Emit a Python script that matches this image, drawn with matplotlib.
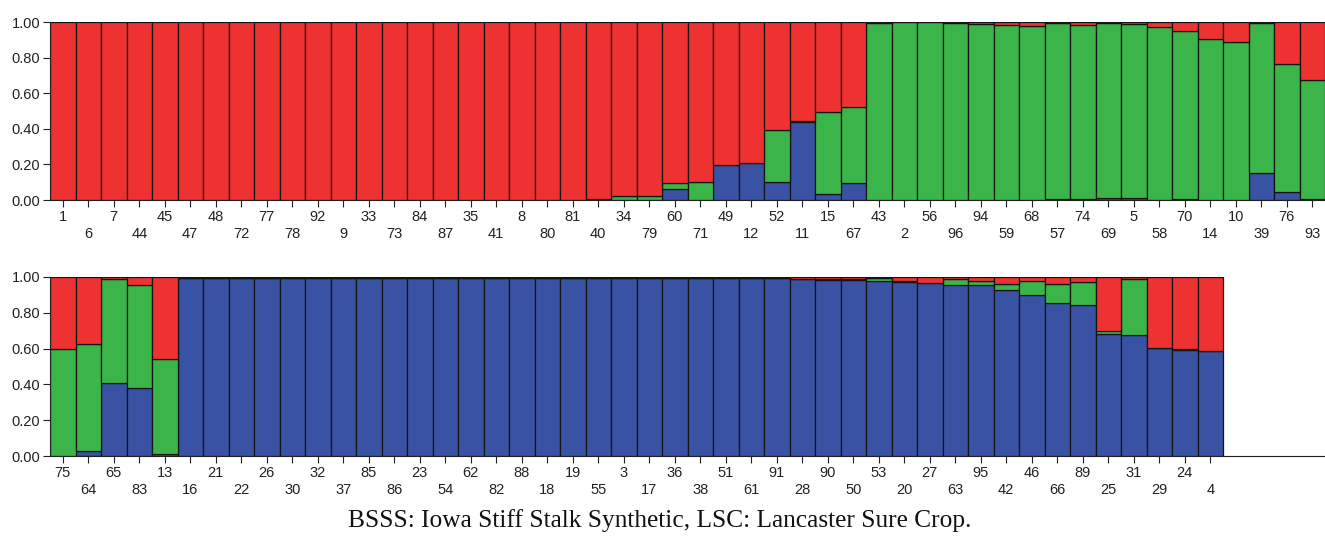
import matplotlib
matplotlib.use("Agg")
import matplotlib.pyplot as plt
import numpy as np

# ---------------- data ----------------
top_labels = [1, 6, 7, 44, 45, 47, 48, 72, 77, 78, 92, 9, 33, 73, 84, 87, 35, 41, 8, 80,
              81, 40, 34, 79, 60, 71, 49, 12, 52, 11, 15, 67, 43, 2, 56, 96, 94, 59, 68, 57,
              74, 69, 5, 58, 70, 14, 10, 39, 76, 93]
top_blue = [0, 0, 0, 0, 0, 0, 0, 0, 0, 0, 0, 0, 0, 0, 0, 0, 0, 0, 0, 0,
            0, 0.005, 0, 0, 0.062, 0, 0.196, 0.207, 0.103, 0.440, 0.034, 0.095, 0, 0, 0, 0, 0, 0, 0, 0.005,
            0.005, 0.011, 0.011, 0, 0.005, 0, 0, 0.151, 0.043, 0.005]
top_green = [0, 0, 0, 0, 0, 0, 0, 0, 0, 0, 0, 0, 0, 0, 0, 0, 0, 0, 0, 0,
             0, 0, 0.020, 0.020, 0.031, 0.099, 0, 0, 0.291, 0.005, 0.461, 0.428, 0.995, 0.998, 0.998, 0.997, 0.987, 0.985, 0.978, 0.988,
             0.980, 0.982, 0.976, 0.972, 0.945, 0.907, 0.888, 0.845, 0.721, 0.668]
top_red = [1, 1, 1, 1, 1, 1, 1, 1, 1, 1, 1, 1, 1, 1, 1, 1, 1, 1, 1, 1,
           1, 0.995, 0.980, 0.980, 0.907, 0.901, 0.804, 0.793, 0.606, 0.555, 0.505, 0.477, 0.005, 0.002, 0.002, 0.003, 0.013, 0.015, 0.022, 0.007,
           0.015, 0.007, 0.013, 0.028, 0.050, 0.093, 0.112, 0.004, 0.236, 0.327]

bot_labels = [75, 64, 65, 83, 13, 16, 21, 22, 26, 30, 32, 37, 85, 86, 23, 54, 62, 82, 88, 18,
              19, 55, 3, 17, 36, 38, 51, 61, 91, 28, 90, 50, 53, 20, 27, 63, 95, 42, 46, 66,
              89, 25, 31, 29, 24, 4]
bot_blue = [0.0, 0.026, 0.406, 0.378, 0.013, 0.995, 0.995, 0.995, 0.995, 0.995, 0.995, 0.995, 0.995, 0.995, 0.995, 0.995, 0.995, 0.995, 0.995, 0.995,
            0.995, 0.995, 0.995, 0.995, 0.995, 0.995, 0.995, 0.995, 0.995, 0.988, 0.985, 0.985, 0.979, 0.972, 0.966, 0.953, 0.953, 0.925, 0.897, 0.854,
            0.845, 0.682, 0.677, 0.602, 0.593, 0.587]
bot_green = [0.598, 0.600, 0.584, 0.577, 0.529, 0.002, 0.002, 0.002, 0.002, 0.002, 0.002, 0.002, 0.002, 0.002, 0.002, 0.002, 0.002, 0.002, 0.002, 0.002,
             0.002, 0.002, 0.002, 0.002, 0.002, 0.002, 0.002, 0.002, 0.002, 0.002, 0.003, 0.005, 0.013, 0.004, 0.002, 0.037, 0.027, 0.035, 0.083, 0.109,
             0.125, 0.015, 0.313, 0.003, 0.002, 0.002]
bot_red = [0.402, 0.374, 0.010, 0.045, 0.458, 0.003, 0.003, 0.003, 0.003, 0.003, 0.003, 0.003, 0.003, 0.003, 0.003, 0.003, 0.003, 0.003, 0.003, 0.003,
           0.003, 0.003, 0.003, 0.003, 0.003, 0.003, 0.003, 0.003, 0.003, 0.010, 0.012, 0.010, 0.008, 0.024, 0.032, 0.010, 0.020, 0.040, 0.020, 0.037,
           0.030, 0.303, 0.010, 0.395, 0.405, 0.411]

y_ticks = [0.0, 0.2, 0.4, 0.6, 0.8, 1.0]
y_ticklabels = ["0.00", "0.20", "0.40", "0.60", "0.80", "1.00"]
caption = "BSSS: Iowa Stiff Stalk Synthetic, LSC: Lancaster Sure Crop."

# ---------------- style ----------------
C_BLUE = "#3a52a3"
C_GREEN = "#3bb54a"
C_RED = "#ee3131"
EDGE = "#141414"
plt.rcParams["font.family"] = ["Liberation Sans Narrow", "Liberation Sans", "DejaVu Sans"]

fig = plt.figure(figsize=(13.25, 5.38), dpi=100)
W, H = 1325.0, 538.0


def panel(rect, labels, blue, green, red):
    ax = fig.add_axes(rect)
    n = len(labels)
    x = np.arange(n) + 0.5
    blue = np.array(blue)
    green = np.array(green)
    red = np.array(red)
    kw = dict(width=1.0, edgecolor=EDGE, linewidth=0.9)
    ax.bar(x, blue, color=C_BLUE, **kw)
    ax.bar(x, green, bottom=blue, color=C_GREEN, **kw)
    ax.bar(x, red, bottom=blue + green, color=C_RED, **kw)
    ax.set_xlim(0, 50)
    ax.set_ylim(0, 1.0)
    ax.set_yticks(y_ticks)
    ax.set_yticklabels(y_ticklabels, fontsize=10.5)
    ax.set_xticks(x)
    lab = [str(v) if i % 2 == 0 else "\n" + str(v) for i, v in enumerate(labels)]
    ax.set_xticklabels(lab, fontsize=10.5)
    for t in ax.get_xticklabels():
        t.set_linespacing(1.2)
    ax.tick_params(axis="both", length=5, width=0.8, color="#222222", labelcolor="#222222")
    ax.tick_params(axis="x", pad=2.5)
    ax.tick_params(axis="y", pad=2)
    for s in ["top", "right"]:
        ax.spines[s].set_visible(False)
    ax.spines["left"].set_color("#222222")
    ax.spines["bottom"].set_color("#222222")
    ax.spines["left"].set_linewidth(0.8)
    ax.spines["bottom"].set_linewidth(0.8)
    return ax


# top panel: x 50..1325, y 22..200
panel([50 / W, 1 - 200 / H, 1275 / W, 178 / H], top_labels, top_blue, top_green, top_red)
# bottom panel: x 50..1325, y 277..456
panel([50 / W, 1 - 456 / H, 1275 / W, 179 / H], bot_labels, bot_blue, bot_green, bot_red)

fig.text(660 / W, 1 - 521 / H, caption, ha="center", va="center",
         fontsize=18.3, family=["Liberation Serif", "DejaVu Serif"], color="#111111")

fig.savefig("out.png", dpi=100)
